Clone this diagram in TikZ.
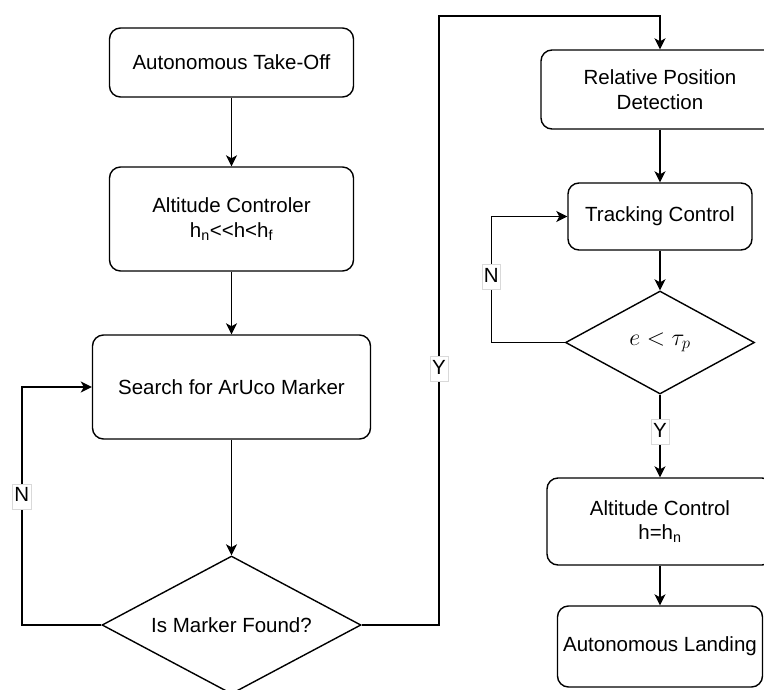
\documentclass[tikz,border=0pt]{standalone}
\usepackage{fix-cm}
\usepackage{fontspec}
\setmainfont{Liberation Sans}
\usetikzlibrary{shapes, arrows.meta, positioning}
\tikzstyle{process} = [rectangle, rounded corners=11pt, text centered, align=center, draw=black, line width=1.4pt, fill=white, inner sep=0pt, font=\fontsize{20.5}{24.5}\selectfont]
\tikzstyle{decision} = [diamond, aspect=1.85, text centered, draw=black, line width=1.4pt, fill=white, inner sep=0pt, font=\fontsize{20.5}{24.5}\selectfont]
\tikzstyle{arrow} = [line width=1.5pt, -{Stealth[length=11pt, width=11pt, inset=3pt]}]
\tikzstyle{choice} = [fill=white, draw=gray!30, line width=0.5pt, inner xsep=2pt, inner ysep=3pt, text height=15pt, text depth=4pt, font=\fontsize{20.5}{24.5}\selectfont]

\begin{document}
\begin{tikzpicture}[x=1pt, y=-1pt]
    \useasboundingbox (0,0) rectangle (764,689);
    \clip (0,0) rectangle (764,689);

    \node (takeoff) [process, minimum width=244pt, minimum height=69pt] at (231.5,62.5) {Autonomous Take-Off};
    \node (altctrl) [process, minimum width=244pt, minimum height=104pt, below of=takeoff, node distance=156.5pt] {Altitude Controler\\h\textsubscript{n}<{}<h<h\textsubscript{f}};
    \node (search) [process, minimum width=278pt, minimum height=104pt, below of=altctrl, node distance=168pt] {Search for ArUco Marker};
    \node (found) [decision, minimum width=259pt, minimum height=138pt, below of=search, node distance=238pt] {Is Marker Found?};

    \node (reldet) [process, minimum width=238pt, minimum height=79pt] at (660,89.5) {Relative Position\\Detection};
    \node (track) [process, minimum width=184pt, minimum height=67pt, below of=reldet, node distance=127pt] {Tracking Control};
    \node (cond) [decision, minimum width=189pt, minimum height=103pt, below of=track, node distance=126pt, font=\fontsize{24}{28}\selectfont] {$e<\tau_p$};
    \node (altland) [process, minimum width=226pt, minimum height=87pt, below of=cond, node distance=179pt] {Altitude Control\\h=h\textsubscript{n}};
    \node (landing) [process, minimum width=205pt, minimum height=81pt, below of=altland, node distance=125pt] {Autonomous Landing};

    \coordinate (ytop) at (439,16);

    \draw [arrow] (takeoff) -- (altctrl);
    \draw [arrow] (altctrl) -- (search);
    \draw [arrow] (search) -- (found);
    \draw [arrow] (found.west) -| node[choice, pos=0.77] {N} ([xshift=-70pt]search.west) -- (search.west);
    \draw [arrow] (found.east) -| node[choice, pos=0.71] {Y} (ytop) -| (reldet.north);

    \draw [arrow] (reldet) -- (track);
    \draw [arrow] (track) -- (cond);
    \draw [arrow] (cond.west) -| node[choice, pos=0.76] {N} ([xshift=-76pt]track.west) -- (track.west);
    \draw [arrow] (cond) -- node[choice, pos=0.45] {Y} (altland);
    \draw [arrow] (altland) -- (landing);

\end{tikzpicture}
\end{document}
